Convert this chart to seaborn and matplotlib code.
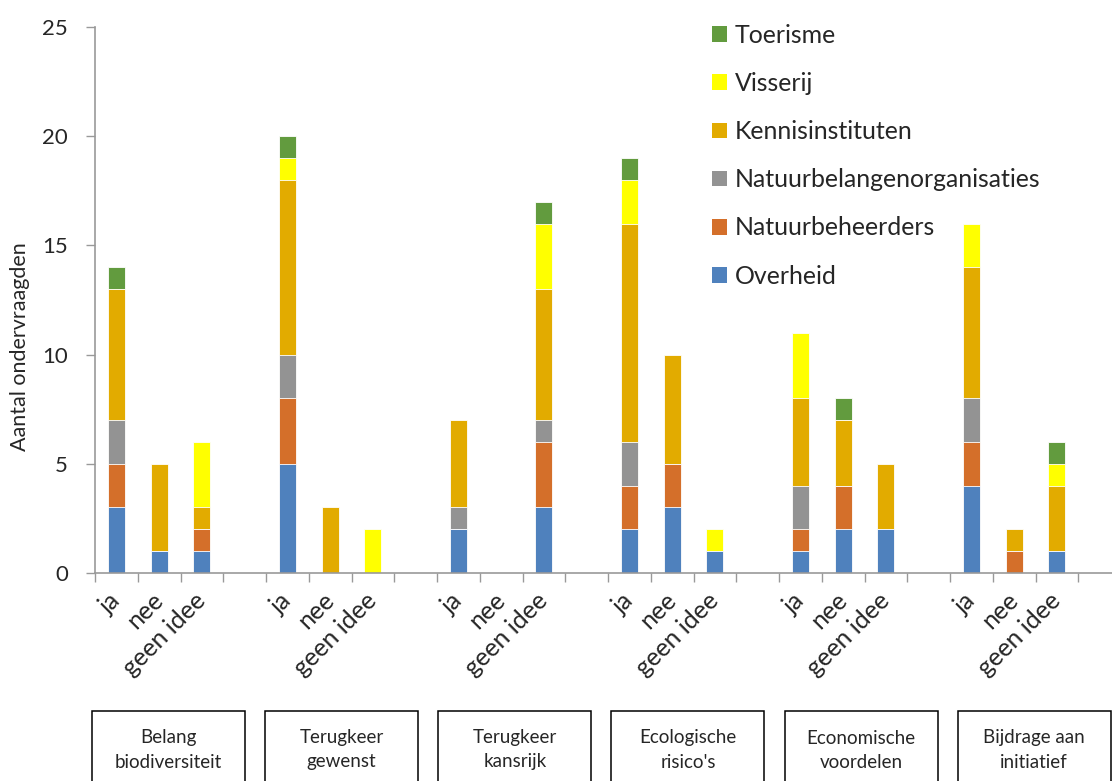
import matplotlib
matplotlib.use("Agg")
import matplotlib.pyplot as plt
import matplotlib.transforms as mtransforms
from matplotlib.patches import Patch, Rectangle
import numpy as np
import pandas as pd
import seaborn as sns

# questions (groups) and answers per question
groups = ["Belang\nbiodiversiteit", "Terugkeer\ngewenst", "Terugkeer\nkansrijk",
          "Ecologische\nrisico's", "Economische\nvoordelen", "Bijdrage aan\ninitiatief"]
answers = ["ja", "nee", "geen idee"]

stakeholders = ["Overheid", "Natuurbeheerders", "Natuurbelangenorganisaties",
                "Kennisinstituten", "Visserij", "Toerisme"]
colors = ["#4F81BD", "#D46F2A", "#939393", "#E2AB00", "#FFFF00", "#629B3E"]

# counts per bar: (ja, nee, geen idee) for each question in order
overheid = [3, 1, 1, 5, 0, 0, 2, 0, 3, 2, 3, 1, 1, 2, 2, 4, 0, 1]
natuurbeheerders = [2, 0, 1, 3, 0, 0, 0, 0, 3, 2, 2, 0, 1, 2, 0, 2, 1, 0]
natuurbelang = [2, 0, 0, 2, 0, 0, 1, 0, 1, 2, 0, 0, 2, 0, 0, 2, 0, 0]
kennis = [6, 4, 1, 8, 3, 0, 4, 0, 6, 10, 5, 0, 4, 3, 3, 6, 1, 3]
visserij = [0, 0, 3, 1, 0, 2, 0, 0, 3, 2, 0, 1, 3, 0, 0, 2, 0, 1]
toerisme = [1, 0, 0, 1, 0, 0, 0, 0, 1, 1, 0, 0, 0, 1, 0, 0, 0, 1]

series = [overheid, natuurbeheerders, natuurbelang, kennis, visserij, toerisme]

rows = []
for g in range(len(groups)):
    for a in range(len(answers)):
        i = g * len(answers) + a
        for s, vals in zip(stakeholders, series):
            rows.append({"slot": g * 4 + a, "answer": answers[a],
                         "stakeholder": s, "count": vals[i]})
df = pd.DataFrame(rows)
df["cum"] = df.groupby("slot")["count"].cumsum()

FONT = ["Lato", "DejaVu Sans"]
sns.set_theme(style="white")
plt.rcParams["font.family"] = FONT

W, H = 1112, 781
fig = plt.figure(figsize=(W / 100, H / 100), dpi=100)
ax = fig.add_axes([95 / W, (H - 573) / H, 1026 / W, 546 / H])

n_slots = len(groups) * 4
order = list(range(n_slots))
# stacked bars: draw cumulative totals from the top layer down
for s, c in reversed(list(zip(stakeholders, colors))):
    sub = df[df["stakeholder"] == s]
    sns.barplot(data=sub, x="slot", y="cum", order=order, color=c,
                saturation=1, width=0.4, edgecolor="white", linewidth=0.6,
                errorbar=None, ax=ax)

ax.set_xlim(-0.5, n_slots - 0.5)
ax.set_ylim(0, 25)
ax.set_yticks(np.arange(0, 26, 5))
ax.set_xlabel("")
ax.set_ylabel("Aantal ondervraagden", fontsize=15.5)
ax.yaxis.set_label_coords(-0.063, 0.414)

gray = "#999999"
for side in ["top", "right"]:
    ax.spines[side].set_visible(False)
for side in ["left", "bottom"]:
    ax.spines[side].set_color(gray)
    ax.spines[side].set_linewidth(1.2)

bounds = np.arange(n_slots + 1) - 0.5
ax.set_xticks(bounds)
ax.set_xticklabels([""] * len(bounds))
bar_pos = df["slot"].unique()
bar_lab = [answers[p % 4] for p in bar_pos]
ax.set_xticks(bar_pos, labels=bar_lab, minor=True)
ax.tick_params(axis="x", which="major", length=6.5, width=1, color=gray,
               direction="out", bottom=True)
ax.tick_params(axis="x", which="minor", length=0, pad=17, bottom=True,
               labelsize=18, labelrotation=45)
ax.tick_params(axis="y", which="major", length=6.5, width=1, color=gray,
               direction="out", left=True, pad=13, labelsize=16)
plt.setp(ax.get_xticklabels(minor=True), rotation=45, ha="right", va="center",
         rotation_mode="anchor")

handles = [Patch(facecolor=c, edgecolor="none") for c in colors][::-1]
ax.legend(handles, stakeholders[::-1], loc="upper left",
          bbox_to_anchor=(712 / W, (H - 24) / H), bbox_transform=fig.transFigure,
          frameon=False, fontsize=17.9, handlelength=0.6, handleheight=0.6,
          handletextpad=0.33, labelspacing=1.01, borderpad=0, borderaxespad=0)

# question boxes underneath the answer labels
trans = mtransforms.blended_transform_factory(ax.transData, fig.transFigure)
for g, name in enumerate(groups):
    left = 4.05 * g - 0.57
    ax.add_patch(Rectangle((left, -0.05), 3.58, 0.05 + (H - 711) / H,
                           transform=trans, clip_on=False, facecolor="white",
                           edgecolor="black", linewidth=1.1))
    ax.text(left + 1.79, (H - 750) / H, name, transform=trans, ha="center",
            va="center", fontsize=13.5, linespacing=1.5)

fig.savefig("out.png", dpi=100)
